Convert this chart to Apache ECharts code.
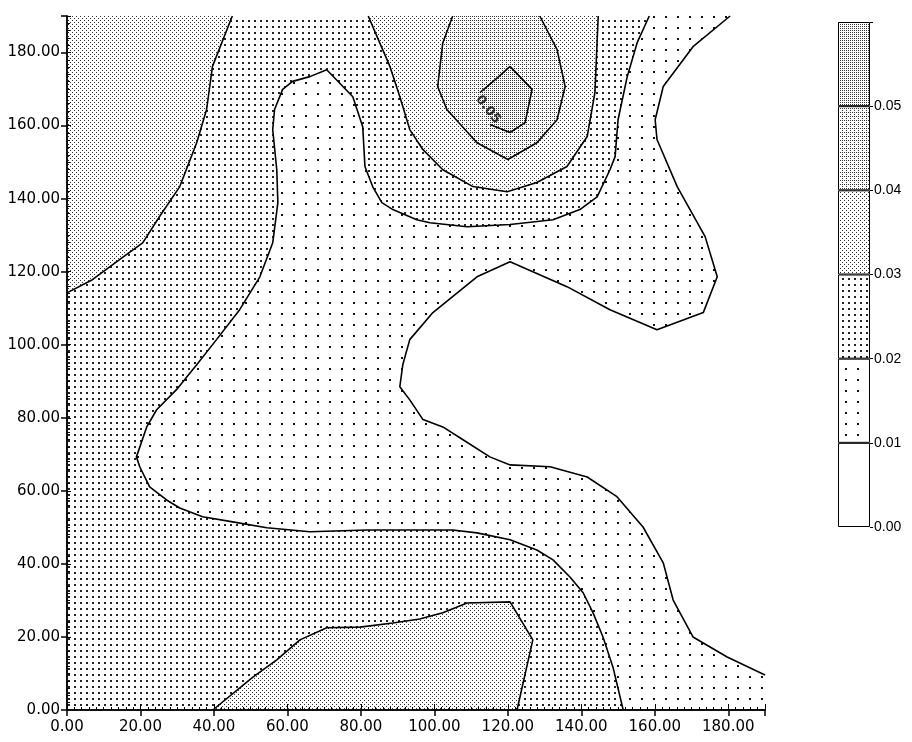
<!DOCTYPE html>
<html><head><meta charset="utf-8">
<script src="https://cdn.jsdelivr.net/npm/echarts@6/dist/echarts.min.js"></script>
<style>html,body{margin:0;padding:0;background:#fff}#chart{width:912px;height:742px}</style>
</head><body><div id="chart"></div>
<script>
// ---- data ----
const xMin = 0, xMax = 190, yMin = 0, yMax = 190, tickStep = 20;
const levels = [0.00, 0.01, 0.02, 0.03, 0.04, 0.05, 0.06];
const peakLabel = '0.05';
const peakLabelPos = [114.6, 164.4];

// 0.01 contour (boundary of the white region, right side)
const contour001 = [[180.5,190],[170.4,181.6],[162.3,170.7],[160.1,161.6],[160.6,156.2],[166.1,143.3],[173.7,129.6],[177.0,118.6],[173.2,108.8],[160.6,104.1],[147.8,109.6],[136.1,115.9],[120.6,122.7],[111.6,118.6],[99.6,108.8],[93.3,101.4],[91.4,94.5],[90.6,88.5],[93.3,84.9],[96.9,79.5],[102.3,77.5],[107.8,74.0],[115.1,69.3],[120.6,67.1],[131.5,66.6],[141.6,63.8],[149.7,58.4],[156.8,50.1],[162.3,40.3],[165.0,30.1],[170.4,20.0],[179.7,14.5],[190,9.6]];

// 0.02 contour (the long "finger" line)
const contour002 = [[151.4,0],[148.6,11.8],[145.9,20.0],[143.2,26.6],[140.5,32.1],[136.9,36.4],[132.3,41.1],[127.9,43.8],[120.6,46.6],[111.6,48.5],[105.0,49.3],[93.3,49.3],[81.6,49.3],[66.1,48.8],[54.4,49.9],[45.1,51.5],[36.9,52.9],[30.7,55.3],[27.1,57.5],[22.5,61.1],[19.8,66.6],[18.9,69.3],[21.7,77.5],[24.4,82.2],[29.8,87.7],[35.3,94.5],[40.7,101.4],[47.0,109.6],[52.5,118.6],[56.0,127.9],[57.4,138.9],[57.1,147.9],[56.0,158.9],[56.5,164.4],[58.7,169.9],[61.4,172.1],[66.1,173.4],[70.7,175.3],[75.1,170.7],[77.8,167.9],[80.5,159.7],[81.1,148.8],[83.2,143.3],[85.7,138.9],[88.7,137.0],[95.2,134.2],[98.8,133.4],[108.9,132.3],[120.6,132.9],[132.3,134.2],[139.6,137.0],[144.3,140.5],[147.8,147.9],[149.2,151.5],[150.0,161.6],[152.5,173.4],[155.2,182.7],[158.5,190]];

// 0.03 contours
const contour003TopLeft = [[0,114.2],[6.9,117.8],[14.3,123.3],[20.6,127.9],[25.2,135.1],[30.7,143.3],[35.3,155.3],[38.0,164.4],[39.6,176.2],[45.0,190]];
const contour003Top = [[82.0,190],[85.1,182.7],[87.9,176.2],[90.6,167.9],[93.3,158.9],[96.9,153.4],[102.3,147.9],[110.5,143.3],[119.8,141.9],[127.9,144.4],[136.1,148.8],[141.6,157.0],[143.7,169.0],[144.6,190]];
const contour003Bottom = [[39.7,0],[50.6,9.0],[57.1,13.7],[63.4,19.2],[70.7,22.5],[79.7,22.7],[88.7,23.8],[96.0,24.9],[102.3,26.6],[108.9,29.3],[120.6,29.6],[126.8,19.2],[122.5,0]];

// 0.04 contour
const contour004 = [[105.0,190],[102.3,182.7],[100.9,170.7],[103.4,164.4],[111.6,155.3],[120.0,150.7],[127.9,155.3],[133.4,161.6],[135.6,170.7],[133.4,180.8],[128.7,190]];

// 0.05 contour (closed; the label sits on the last segment)
const contour005 = [[115.1,160.3],[120.6,158.1],[124.7,160.8],[126.6,169.9],[120.6,176.2],[117.3,173.2],[112.4,169.0]];

// ---- patterns (style) ----
function pattern(w, h, dots, col) {
  const c = document.createElement('canvas');
  c.width = w; c.height = h;
  const g = c.getContext('2d');
  g.fillStyle = '#fff'; g.fillRect(0, 0, w, h);
  g.fillStyle = col || '#111';
  dots.forEach(d => g.fillRect(d[0], d[1], d[2], d[3]));
  return { image: c, repeat: 'repeat' };
}
const fills = [
  '#ffffff',
  pattern(12, 11, [[5,5,2,2]], '#111'),
  pattern(6, 6, [[2,2,2,2]], '#222'),
  pattern(4, 4, [[0,0,1,1],[2,2,1,1]], '#333'),
  pattern(4, 4, [[0,0,1,1],[2,2,1,1],[2,0,1,1]], '#333'),
  pattern(4, 4, [[0,0,1,1],[2,2,1,1],[2,0,1,1],[0,2,1,1]], '#333')
];

// ---- regions built from contours ----
const box = [[xMin,yMin],[xMax,yMin],[xMax,yMax],[xMin,yMax]];
const regSparse = contour002.concat([[xMax,yMax],[xMax,yMin]]);
const regWhite = contour001.concat([[xMax,yMax]]);
const regTopLeft = contour003TopLeft.concat([[xMin,yMax]]);

function regionSeries(points, fill, z) {
  return {
    type: 'custom', coordinateSystem: 'cartesian2d', xAxisIndex: 0, yAxisIndex: 0,
    silent: true, z: z, data: [[points[0][0], points[0][1]]],
    renderItem: (p, api) => ({
      type: 'polygon',
      shape: { points: points.map(pt => api.coord(pt)) },
      style: { fill: fill, stroke: null, lineWidth: 0 }
    })
  };
}
function lineSeries(points) {
  return {
    type: 'line', xAxisIndex: 0, yAxisIndex: 0, data: points, showSymbol: false,
    symbol: 'none', silent: true, z: 5, animation: false,
    lineStyle: { color: '#000', width: 1.6 }
  };
}

const series = [
  regionSeries(box, fills[2], 1),
  regionSeries(regSparse, fills[1], 1),
  regionSeries(regWhite, fills[0], 1),
  regionSeries(regTopLeft, fills[3], 1),
  regionSeries(contour003Bottom, fills[3], 1),
  regionSeries(contour003Top, fills[3], 1),
  regionSeries(contour004, fills[4], 1),
  regionSeries(contour005, fills[5], 1),
  lineSeries(contour001),
  lineSeries(contour002),
  lineSeries(contour003TopLeft),
  lineSeries(contour003Top),
  lineSeries(contour003Bottom),
  lineSeries(contour004),
  lineSeries(contour005),
  {
    type: 'scatter', xAxisIndex: 0, yAxisIndex: 0, data: [peakLabelPos], symbolSize: 1,
    itemStyle: { color: 'transparent' }, z: 6, silent: true,
    label: { show: true, position: 'inside', formatter: peakLabel, rotate: -52,
      color: '#000', fontSize: 13, fontWeight: 'bold', fontFamily: 'DejaVu Sans' }
  }
];
// colour bar bands
for (let i = 0; i < levels.length - 1; i++) {
  series.push({
    type: 'bar', xAxisIndex: 3, yAxisIndex: 3, stack: 'cb', barWidth: '100%',
    data: [+(levels[i+1] - levels[i]).toFixed(4)], silent: true,
    itemStyle: { color: fills[i], borderColor: '#000', borderWidth: 1 }
  });
}

const lblFont = { color: '#000', fontSize: 15, fontFamily: 'DejaVu Sans' };
const chart = echarts.init(document.getElementById('chart'), null, { renderer: 'canvas' });
chart.setOption({
  animation: false,
  backgroundColor: '#fff',
  grid: [
    { left: 67, top: 16, width: 698, height: 694 },
    { left: 838, top: 22, width: 32, height: 505 }
  ],
  xAxis: [
    { gridIndex: 0, type: 'value', position: 'bottom', min: xMin, max: xMax, interval: tickStep, z: 10,
      axisLine: { lineStyle: { color: '#000', width: 1.5 } },
      axisTick: { length: 6, lineStyle: { color: '#000', width: 1.5 } },
      axisLabel: Object.assign({ margin: 10, formatter: v => v > 180 ? '' : v.toFixed(2) }, lblFont),
      splitLine: { show: false } },
    { gridIndex: 0, type: 'value', position: 'top', min: xMin, max: xMax, interval: tickStep, z: 10,
      axisLine: { lineStyle: { color: '#000', width: 1.5 } },
      axisTick: { length: 6, lineStyle: { color: '#000', width: 1 } },
      axisLabel: { show: false }, splitLine: { show: false } },
    { gridIndex: 0, type: 'value', position: 'bottom', min: xMin, max: xMax, interval: tickStep, z: 10,
      axisLine: { show: false }, axisLabel: { show: false },
      axisTick: { show: false, inside: true },
      minorTick: { show: true, splitNumber: 10, length: 3, lineStyle: { color: '#000', width: 1 } },
      splitLine: { show: false } },
    { gridIndex: 1, type: 'category', data: ['bar'], show: false }
  ],
  yAxis: [
    { gridIndex: 0, type: 'value', position: 'left', min: yMin, max: yMax, interval: tickStep, z: 10,
      axisLine: { lineStyle: { color: '#000', width: 1.5 } },
      axisTick: { length: 6, lineStyle: { color: '#000', width: 1.5 } },
      axisLabel: Object.assign({ margin: 7, formatter: v => v > 180 ? '' : v.toFixed(2) }, lblFont),
      splitLine: { show: false } },
    { gridIndex: 0, type: 'value', position: 'right', min: yMin, max: yMax, interval: tickStep, z: 10,
      axisLine: { lineStyle: { color: '#000', width: 1.5 } },
      axisTick: { length: 4, lineStyle: { color: '#000', width: 1 } },
      axisLabel: { show: false }, splitLine: { show: false } },
    { gridIndex: 0, type: 'value', position: 'left', min: yMin, max: yMax, interval: tickStep, z: 10,
      axisLine: { show: false }, axisLabel: { show: false },
      axisTick: { show: false, inside: true },
      minorTick: { show: true, splitNumber: 10, length: 3, lineStyle: { color: '#000', width: 1 } },
      splitLine: { show: false } },
    { gridIndex: 1, type: 'value', position: 'right', min: levels[0], max: levels[levels.length-1], interval: 0.01, z: 10,
      axisLine: { show: false },
      axisTick: { show: true, length: 3, lineStyle: { color: '#000' } },
      axisLabel: { margin: 4, color: '#000', fontSize: 14, fontFamily: 'Liberation Sans',
        formatter: v => v > 0.055 ? '' : v.toFixed(2) },
      splitLine: { show: false } }
  ],
  series: series
});
</script></body></html>
